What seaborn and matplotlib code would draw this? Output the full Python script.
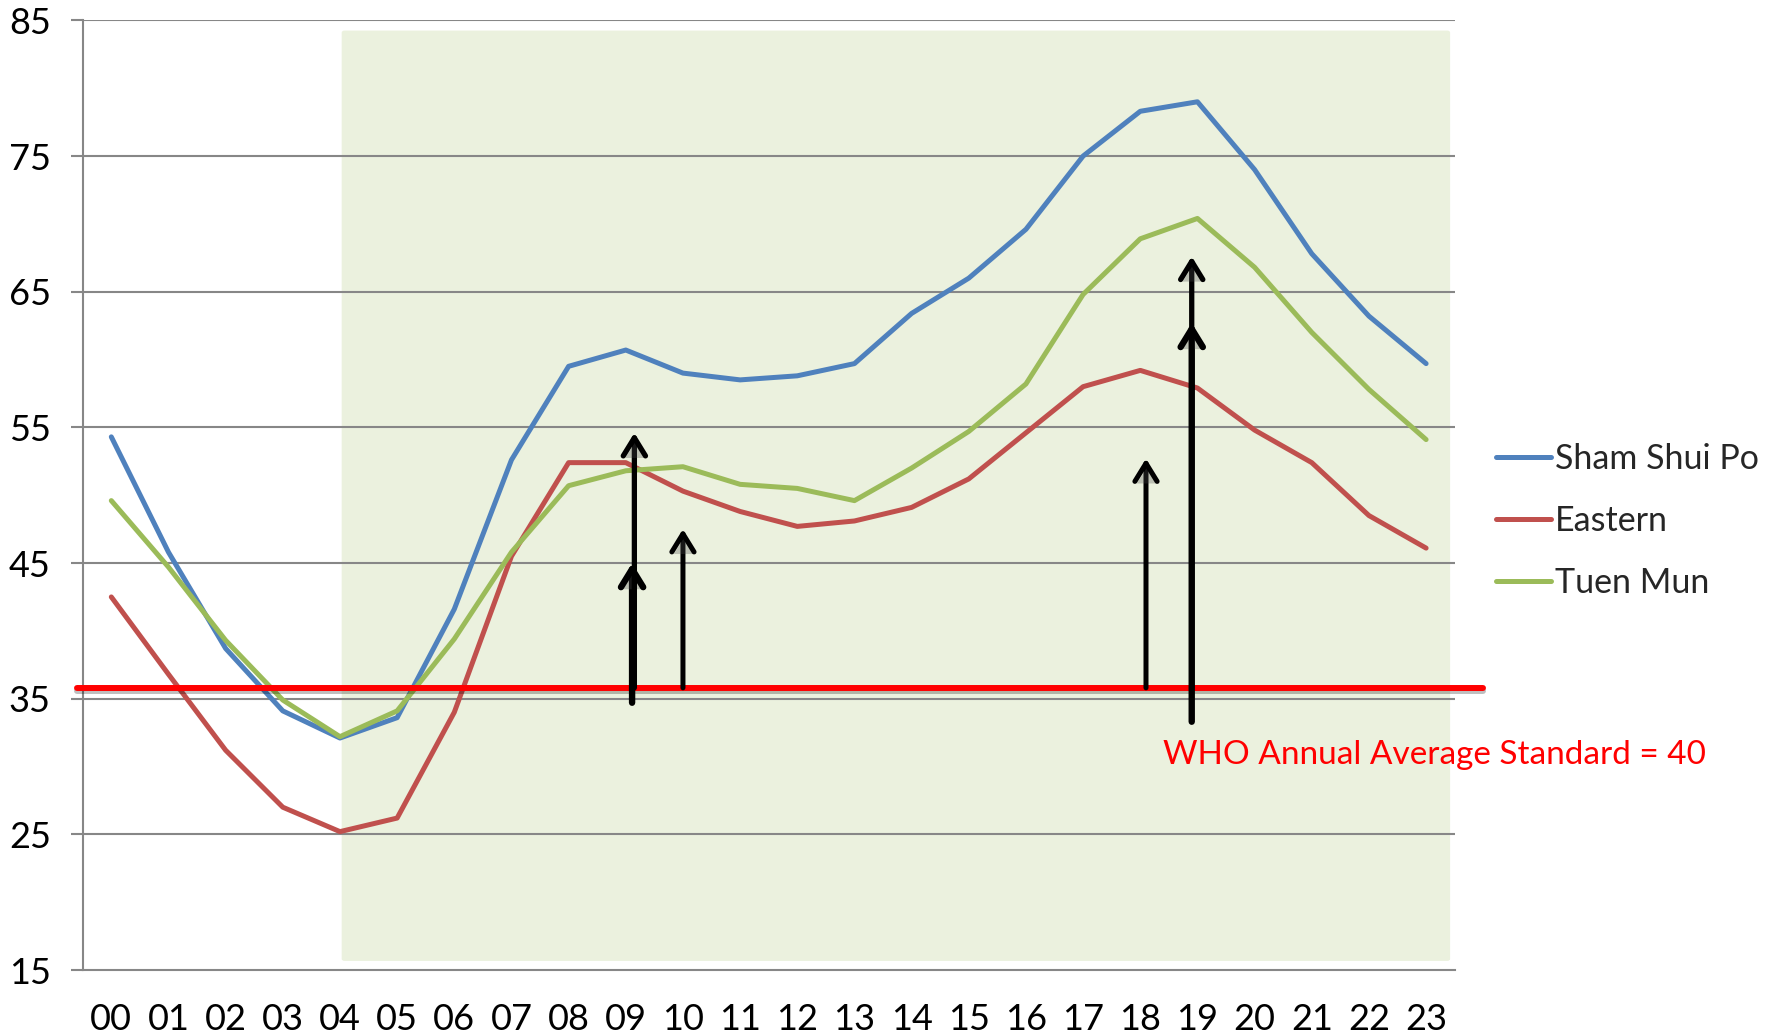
import numpy as np
import pandas as pd
import matplotlib
matplotlib.use("Agg")
import matplotlib.pyplot as plt
import matplotlib.patheffects as pe
from matplotlib.patches import FancyBboxPatch
import seaborn as sns

# ---------------- data ----------------
hours = ["00", "01", "02", "03", "04", "05", "06", "07", "08", "09", "10", "11",
         "12", "13", "14", "15", "16", "17", "18", "19", "20", "21", "22", "23"]
sham_shui_po = [54.3, 45.8, 38.7, 34.1, 32.1, 33.6, 41.6, 52.6, 59.5, 60.7, 59.0, 58.5,
                58.8, 59.7, 63.4, 66.0, 69.6, 75.0, 78.3, 79.0, 74.0, 67.8, 63.2, 59.7]
eastern = [42.5, 36.8, 31.2, 27.0, 25.2, 26.2, 34.0, 45.5, 52.4, 52.4, 50.3, 48.8,
           47.7, 48.1, 49.1, 51.2, 54.6, 58.0, 59.2, 57.9, 54.8, 52.4, 48.5, 46.1]
tuen_mun = [49.6, 44.7, 39.3, 34.9, 32.2, 34.1, 39.4, 45.8, 50.7, 51.8, 52.1, 50.8,
            50.5, 49.6, 52.0, 54.7, 58.2, 64.8, 68.9, 70.4, 66.8, 62.0, 57.8, 54.1]
stations = ["Sham Shui Po", "Eastern", "Tuen Mun"]
colors = ["#4F81BD", "#C0504D", "#9BBB59"]
yticks = [15, 25, 35, 45, 55, 65, 75, 85]
standard_value = 35.8
standard_label = "WHO Annual Average Standard = 40"
# arrows: (x position in hour units, start value, end value, linewidth)
arrows = [(9.11, 34.7, 45.0, 4.6), (9.15, 35.8, 54.6, 3.8), (10.0, 35.8, 47.5, 3.6),
          (18.1, 35.8, 52.7, 3.6), (18.9, 33.3, 62.7, 4.6), (18.9, 35.8, 67.6, 3.8)]
shade_x = (4.03, 23.42)
shade_y = (15.67, 84.25)

df = pd.DataFrame({
    "hour": list(range(len(hours))) * 3,
    "value": sham_shui_po + eastern + tuen_mun,
    "station": [s for s in stations for _ in hours],
})

# ---------------- style ----------------
sns.set_style("white")
plt.rcParams["font.family"] = ["Lato", "DejaVu Sans"]

fig = plt.figure(figsize=(17.79, 10.35), dpi=100)
ax = fig.add_axes([0.0465, 0.0628, 0.7712, 0.9175])

grid_c = "#878787"

# shaded region
rect = FancyBboxPatch((shade_x[0], shade_y[0]), shade_x[1] - shade_x[0], shade_y[1] - shade_y[0],
                      boxstyle="round,pad=0,rounding_size=0.05", facecolor="#EBF1DE",
                      edgecolor="none", zorder=0, mutation_aspect=3)
ax.add_patch(rect)

# gridlines
for v in yticks[1:]:
    ax.axhline(v, color=grid_c, lw=1.5, zorder=1)

sns.lineplot(data=df, x="hour", y="value", hue="station", hue_order=stations,
             palette=colors, linewidth=3.6, ax=ax, legend=True, zorder=3)
for ln in ax.get_lines():
    ln.set_solid_joinstyle("round")
    ln.set_solid_capstyle("round")

# WHO standard line
ax.plot([-0.004, 1.021], [standard_value, standard_value], color="#FF0000", lw=4.3,
        transform=ax.get_yaxis_transform(), clip_on=False, zorder=4,
        path_effects=[pe.SimpleLineShadow(offset=(0, -2), alpha=0.25), pe.Normal()])
ax.text(18.4, 30.85, standard_label, color="#FF0000", fontsize=24, va="center", ha="left",
        clip_on=False, zorder=5)

# arrows
for x, y0, y1, lw in arrows:
    ax.annotate("", xy=(x, y1), xytext=(x, y0),
                arrowprops=dict(arrowstyle="->,head_length=0.65,head_width=0.4",
                                color="black", lw=lw, mutation_scale=20,
                                shrinkA=0, shrinkB=0,
                                path_effects=[pe.SimplePatchShadow(offset=(1.5, -1.5), alpha=0.3),
                                              pe.Normal()]),
                zorder=6)

# axes formatting
ax.set_xlim(-0.5, 23.5)
ax.set_ylim(15, 85)
ax.set_yticks(yticks)
ax.set_yticklabels([str(v) for v in yticks])
ax.set_xticks(range(len(hours)))
ax.set_xticklabels(hours)
ax.set_xticks(np.arange(-0.5, 24, 1), minor=True)
ax.tick_params(axis="x", which="major", length=0, pad=24, labelsize=26, colors="black")
ax.tick_params(axis="x", which="minor", length=9, width=1.5, color=grid_c, direction="out")
ax.tick_params(axis="y", which="major", length=9, width=1.5, color=grid_c, pad=14,
               labelsize=26, labelcolor="black", left=True, direction="out")
for s in ["top", "right"]:
    ax.spines[s].set_visible(False)
for s in ["left", "bottom"]:
    ax.spines[s].set_color(grid_c)
    ax.spines[s].set_linewidth(1.5)
ax.set_xlabel("")
ax.set_ylabel("")

handles, labels = ax.get_legend_handles_labels()
ax.get_legend().remove()
for h in handles:
    h.set_linewidth(3.6)
fig.legend(handles, labels, loc="center left", bbox_to_anchor=(0.8315, 0.497),
           frameon=False, fontsize=24.5, handlelength=1.6, handletextpad=0.12,
           labelspacing=0.88, borderpad=0)

fig.savefig("out.png", dpi=100)
